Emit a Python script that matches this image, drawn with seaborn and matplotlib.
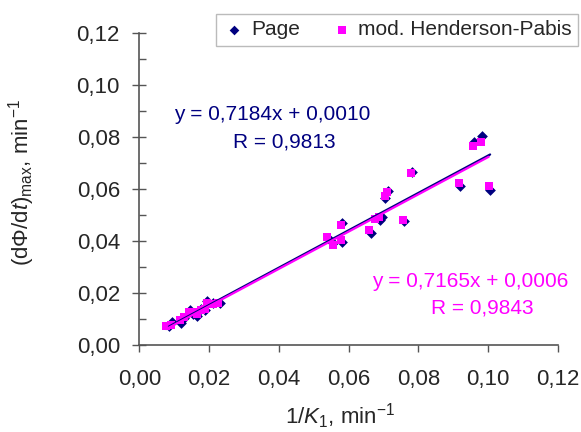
import pandas as pd
import numpy as np
import matplotlib
matplotlib.use('Agg')
import matplotlib.pyplot as plt
import seaborn as sns
from matplotlib.ticker import MultipleLocator

# valores
page_x = [0.0085, 0.0093, 0.0120, 0.0128, 0.0145, 0.0155, 0.0166, 0.0178, 0.0188, 0.0195, 0.0210, 0.0231,
          0.0540, 0.0556, 0.0581, 0.0581, 0.0664, 0.0690, 0.0696, 0.0705, 0.0712, 0.0759, 0.0781, 0.0920,
          0.0960, 0.0982, 0.1006]
page_y = [0.0072, 0.0088, 0.0085, 0.0105, 0.0135, 0.0120, 0.0112, 0.0140, 0.0135, 0.0168, 0.0160, 0.0163,
          0.0410, 0.0392, 0.0398, 0.0470, 0.0432, 0.0480, 0.0492, 0.0565, 0.0592, 0.0475, 0.0665, 0.0612,
          0.0780, 0.0805, 0.0598]
hp_x = [0.0077, 0.0090, 0.0118, 0.0128, 0.0143, 0.0156, 0.0165, 0.0177, 0.0187, 0.0194, 0.0210, 0.0225,
        0.0537, 0.0555, 0.0578, 0.0578, 0.0659, 0.0676, 0.0686, 0.0705, 0.0709, 0.0755, 0.0779, 0.0917,
        0.0956, 0.0979, 0.1002]
hp_y = [0.0072, 0.0078, 0.0098, 0.0108, 0.0125, 0.0125, 0.0118, 0.0135, 0.0140, 0.0160, 0.0158, 0.0162,
        0.0414, 0.0385, 0.0404, 0.0462, 0.0442, 0.0485, 0.0494, 0.0573, 0.0590, 0.0481, 0.0663, 0.0622,
        0.0767, 0.0782, 0.0613]

# coeficientes das retas (do gráfico)
page_fit = [0.7184, 0.0010]
hp_fit = [0.7165, 0.0006]

x_ticks = [0.00, 0.02, 0.04, 0.06, 0.08, 0.10, 0.12]
x_labels = ['0,00', '0,02', '0,04', '0,06', '0,08', '0,10', '0,12']
y_ticks = [0.00, 0.02, 0.04, 0.06, 0.08, 0.10, 0.12]
y_labels = ['0,00', '0,02', '0,04', '0,06', '0,08', '0,10', '0,12']

navy = '#000080'
magenta = '#FF00FF'
axcol = '#555555'

df = pd.concat([
    pd.DataFrame({'x': page_x, 'y': page_y, 'modelo': 'Page'}),
    pd.DataFrame({'x': hp_x, 'y': hp_y, 'modelo': 'mod. Henderson-Pabis'}),
])

sns.set_style('ticks')
plt.rcParams['font.family'] = ['Liberation Sans', 'DejaVu Sans']
plt.rcParams['mathtext.fontset'] = 'custom'
plt.rcParams['mathtext.rm'] = 'Liberation Sans'
plt.rcParams['mathtext.it'] = 'Liberation Sans:italic'

fig = plt.figure(figsize=(5.81, 4.32), dpi=100)
ax = fig.add_axes([0.2398, 0.2014, 0.7202, 0.7222])

sns.scatterplot(data=df[df.modelo == 'Page'], x='x', y='y', marker='D', color=navy,
                s=30, linewidth=0, ax=ax, label='Page', zorder=3)
sns.scatterplot(data=df[df.modelo == 'mod. Henderson-Pabis'], x='x', y='y', marker='s', color=magenta,
                s=40, linewidth=0, ax=ax, label='mod. Henderson-Pabis', zorder=4)

# retas de regressão
xs = np.array([min(page_x), max(page_x)])
ax.plot(xs, page_fit[0] * xs + page_fit[1], color=navy, lw=1.6, zorder=5)
xs = np.array([min(hp_x), max(hp_x)])
ax.plot(xs, hp_fit[0] * xs + hp_fit[1], color=magenta, lw=1.6, zorder=6)

ax.text(0.0381, 0.0865, 'y = 0,7184x + 0,0010', color=navy, fontsize=15, ha='center', va='baseline')
ax.text(0.0415, 0.0760, 'R = 0,9813', color=navy, fontsize=15, ha='center', va='baseline')
ax.text(0.0949, 0.0222, 'y = 0,7165x + 0,0006', color=magenta, fontsize=15, ha='center', va='baseline')
ax.text(0.0983, 0.0122, 'R = 0,9843', color=magenta, fontsize=15, ha='center', va='baseline')

ax.set_xlim(0, 0.12)
ax.set_ylim(0, 0.12)
ax.set_xticks(x_ticks)
ax.set_xticklabels(x_labels, fontsize=16)
ax.set_yticks(y_ticks)
ax.set_yticklabels(y_labels, fontsize=16)
ax.yaxis.set_minor_locator(MultipleLocator(0.01))
ax.tick_params(axis='y', which='major', direction='inout', length=10, width=1, color=axcol, pad=9)
ax.tick_params(axis='y', which='minor', direction='in', length=5, width=1, color=axcol)
ax.tick_params(axis='x', which='major', direction='out', length=5, width=1, color=axcol, pad=12)
for s in ['left', 'bottom']:
    ax.spines[s].set_color(axcol)
    ax.spines[s].set_linewidth(1.2)
sns.despine(ax=ax)

ax.set_xlabel(r'1/$\mathit{K}_{1}$, min$^{-1}$', fontsize=16)
ax.set_ylabel(r'(d$\mathit{\Phi}$/d$\mathit{t}$)$_{\mathrm{max}}$, min$^{-1}$', fontsize=16)
ax.xaxis.set_label_coords(0.48, -0.18)
ax.yaxis.set_label_coords(-0.245, 0.52)

leg = ax.legend(loc='center', bbox_to_anchor=(0.6833, 0.9306), bbox_transform=fig.transFigure,
                ncol=2, frameon=True, fancybox=False, fontsize=15, handletextpad=0.2,
                columnspacing=1.4, borderpad=0.3, handlelength=1.2, markerscale=0.9)
leg.get_frame().set_edgecolor('#aaaaaa')
leg.get_frame().set_linewidth(1)

fig.savefig('out.png', dpi=100)
